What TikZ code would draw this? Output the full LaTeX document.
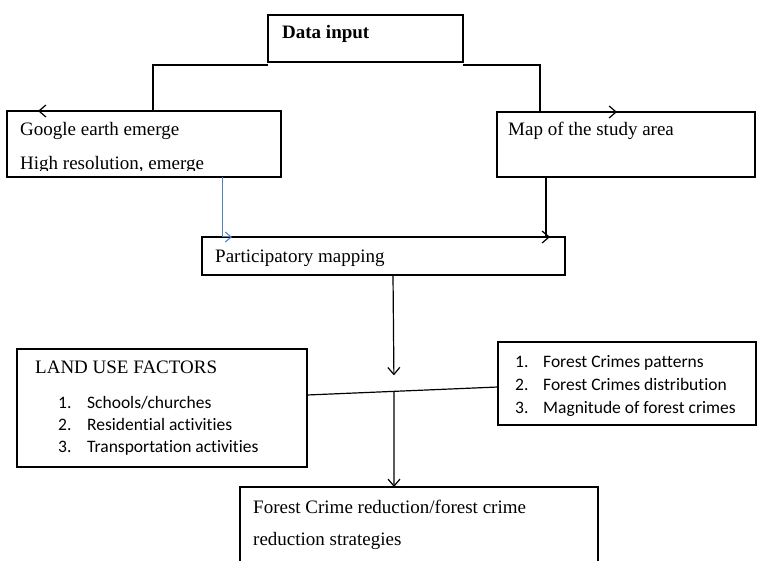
\documentclass[tikz,border=0pt]{standalone}
\usepackage{fontspec}
\setmainfont{Liberation Serif}
\newfontfamily\listfont[Ligatures=NoCommon]{Carlito}
\usetikzlibrary{arrows.meta}

\definecolor{linkblue}{RGB}{79,129,189}

\tikzset{
  box/.style={draw, line width=1.2pt, anchor=north west, inner sep=0pt, outer sep=0pt},
  txt/.style={anchor=base west, inner sep=0pt, font=\fontsize{19}{23}\selectfont},
  itm/.style={anchor=base west, inner sep=0pt, font=\listfont\fontsize{17.5}{22}\selectfont},
  flow/.style={line width=1.2pt, -{Straight Barb[length=7pt,width=12pt]}},
}

\begin{document}
\begin{tikzpicture}[x=1pt,y=-1pt]
\useasboundingbox (0,0) rectangle (757,561);

% boxes
\node[box, minimum width=195pt, minimum height=47pt] (data) at (268,15) {};
\node[box, minimum width=274pt, minimum height=66pt] (google) at (7,111) {};
\node[box, minimum width=258pt, minimum height=65pt] (map) at (497,112) {};
\node[box, minimum width=363pt, minimum height=38pt] (part) at (202,237) {};
\node[box, minimum width=290pt, minimum height=118pt] (land) at (17,349) {};
\node[box, minimum width=258pt, minimum height=83pt] (crimes) at (498,342) {};
\node[box, minimum width=358pt, minimum height=80pt] (final) at (240,487) {};

% texts
\node[txt, font=\fontsize{19}{23}\selectfont\bfseries] (datatxt) at (282,39) {Data input};
\node[txt] (googletxt) at (20,136) {Google earth emerge};
\begin{scope}
  \clip (google.north west) rectangle ([yshift=6pt]google.south east);
  \node[txt] (resolutiontxt) at (20,170) {High resolution, emerge};
\end{scope}
\node[txt] (maptxt) at (508,136) {Map of the study area};
\node[txt] (parttxt) at (215,262) {Participatory mapping};
\node[txt] (landtxt) at (35,373) {LAND USE FACTORS};
\foreach \i/\t in {1/{Schools/churches},2/{Residential activities},3/{Transportation activities}}
  \node[itm] (landitem\i) at (58,386+22*\i) {\makebox[29pt][l]{\i.}\t};
\foreach \i/\t in {1/{Forest Crimes patterns},2/{Forest Crimes distribution},3/{Magnitude of forest crimes}}
  \node[itm] (crimeitem\i) at (515,344+23*\i) {\makebox[28pt][l]{\i.}\t};
\node[txt] (finaltxt) at (253,513) {Forest Crime reduction/forest crime};
\node[txt] (finaltxtb) at (253,545) {reduction strategies};

% connectors
\draw[flow] ([yshift=-3pt]data.south west) -| ([xshift=146pt]google.north west)
  -- ([xshift=31pt]google.north west);
\draw[flow] ([yshift=-3pt]data.south east) -| ([xshift=43pt]map.north west)
  -- ([xshift=120pt]map.north west);
\draw[line width=1pt, linkblue, -{Straight Barb[length=6pt,width=10pt]}]
  ([xshift=215pt]google.south west) |- ([xshift=30pt]part.north west);
\draw[flow] ([xshift=49pt]map.south west) |- ([xshift=348pt]part.north west);
\draw[line width=1.2pt] ([yshift=-46pt]land.north east) -- ([yshift=-45pt]crimes.north west)
  coordinate[pos=0.455] (meet);
\draw[flow] ([xshift=191pt]part.south west) -- ([yshift=16pt]meet);
\draw[flow] (meet) -- ([xshift=154pt]final.north west);

\end{tikzpicture}
\end{document}
